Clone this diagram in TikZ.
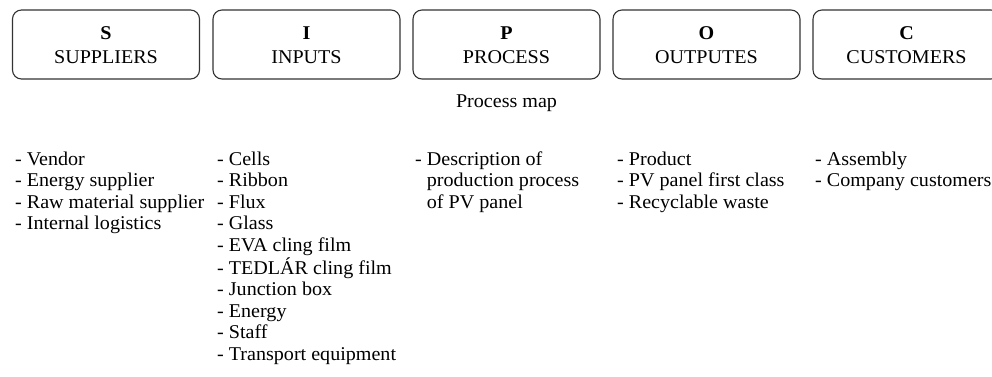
\documentclass[tikz,border=0pt]{standalone}
\usepackage{fontspec}
\setmainfont[FakeStretch=1.03]{Liberation Serif}
\begin{document}
\begin{tikzpicture}[x=1pt,y=-1pt,
  sipoc/.style={draw=black!80, line width=1.1pt, rounded corners=9pt, minimum width=187pt, minimum height=69pt, inner sep=0pt},
  ttl/.style={font=\fontsize{19.5}{21.5}\selectfont, inner sep=0pt, anchor=base},
  lst/.style={font=\fontsize{19.5}{21.5}\selectfont, inner sep=0pt, anchor=base west}]
\useasboundingbox (0,0) rectangle (992,376);
\clip (0,0) rectangle (992,376);
% boxes
\node[sipoc] (bs) at (106,44.5) {};
\node[sipoc] (bi) at (306.5,44.5) {};
\node[sipoc] (bp) at (506.5,44.5) {};
\node[sipoc] (bo) at (706.5,44.5) {};
\node[sipoc] (bc) at (906.5,44.5) {};
% box texts
\node[ttl] (ls) at (106,39) {\textbf{S}};
\node[ttl] (ns) at (106,63) {SUPPLIERS};
\node[ttl] (li) at (306.5,39) {\textbf{I}};
\node[ttl] (ni) at (306.5,63) {INPUTS};
\node[ttl] (lp) at (506.5,39) {\textbf{P}};
\node[ttl] (np) at (506.5,63) {PROCESS};
\node[ttl] (lo) at (706.5,39) {\textbf{O}};
\node[ttl] (no) at (706.5,63) {OUTPUTES};
\node[ttl] (lc) at (906.5,39) {\textbf{C}};
\node[ttl] (nc) at (906.5,63) {CUSTOMERS};
% caption
\node[ttl] (cap) at (506.5,107) {Process map};
% lists
\node[lst] (c1) at (15,165) {\begin{tabular}[t]{@{}l@{}}
- Vendor\\
- Energy supplier\\
- Raw material supplier\\
- Internal logistics
\end{tabular}};
\node[lst] (c2) at (217,165) {\begin{tabular}[t]{@{}l@{}}
- Cells\\
- Ribbon\\
- Flux\\
- Glass\\
- EVA cling film\\
- TEDLÁR cling film\\
- Junction box\\
- Energy\\
- Staff\\
- Transport equipment
\end{tabular}};
\node[lst] (c3) at (415,165) {\begin{tabular}[t]{@{}l@{}}
- Description of\\
\hphantom{- }production process\\
\hphantom{- }of PV panel
\end{tabular}};
\node[lst] (c4) at (617,165) {\begin{tabular}[t]{@{}l@{}}
- Product\\
- PV panel first class\\
- Recyclable waste
\end{tabular}};
\node[lst] (c5) at (815,165) {\begin{tabular}[t]{@{}l@{}}
- Assembly\\
- Company customers
\end{tabular}};
\end{tikzpicture}
\end{document}
